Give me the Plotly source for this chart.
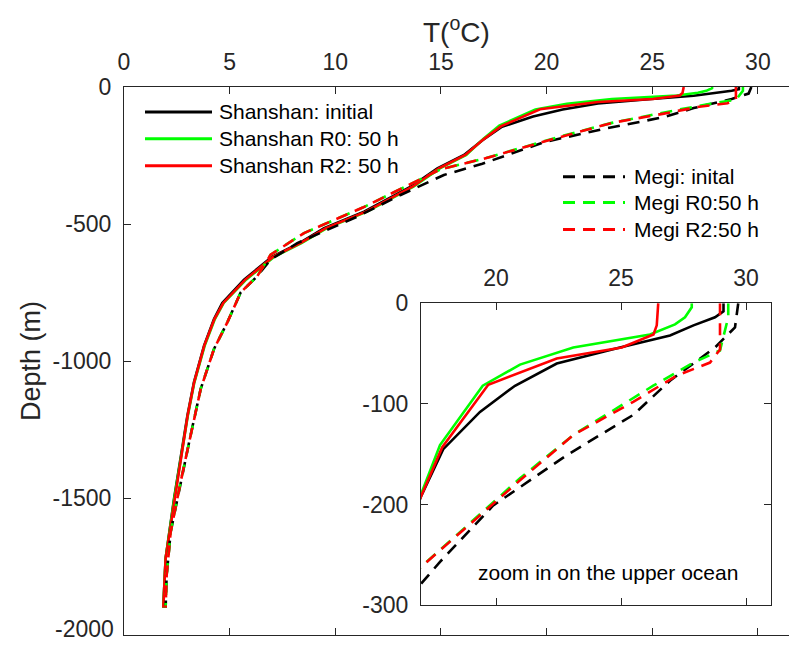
import plotly.graph_objects as go

# ---------------- data ----------------
ss_init_depth = [0, -8, -14, -22, -32, -44, -60, -82, -108, -145, -192, -248, -297, -364, -455, -515,
                 -570, -620, -703, -788, -847, -944, -1078, -1200, -1320, -1502, -1720, -1900]
ss_init_temp = [29.1, 29.1, 28.76, 27.9, 26.96, 24.96, 22.43, 20.76, 19.36, 17.89, 17.0, 16.09, 14.83, 13.57, 11.36, 9.47,
                8.3, 7.0, 5.68, 4.65, 4.26, 3.79, 3.31, 3.0, 2.76, 2.37, 1.97, 1.86]

ss_r0_depth = [0, -4, -14, -21, -31, -44, -61, -82, -141, -190, -248, -297, -364, -455, -515,
               -570, -620, -703, -788, -847, -944, -1078, -1200, -1320, -1502, -1720, -1900]
ss_r0_temp = [27.83, 27.83, 27.56, 27.16, 26.16, 23.09, 20.96, 19.47, 17.76, 17.0, 16.2, 14.95, 13.7, 11.5, 9.6,
              8.4, 7.1, 5.78, 4.72, 4.3, 3.82, 3.33, 3.02, 2.77, 2.38, 1.97, 1.86]

ss_r2_depth = [0, -22, -31, -44, -55, -81, -143, -192, -248, -297, -364, -455, -515,
               -570, -620, -703, -788, -847, -944, -1078, -1200, -1320, -1502, -1720, -1900]
ss_r2_temp = [26.49, 26.43, 26.3, 25.03, 22.43, 19.69, 17.85, 17.0, 16.15, 14.9, 13.65, 11.45, 9.55,
              8.35, 7.05, 5.74, 4.7, 4.28, 3.8, 3.32, 3.01, 2.77, 2.38, 1.97, 1.86]

mg_init_depth = [0, -24, -44, -77, -111, -151, -201, -257, -280, -321, -394, -473, -570, -630, -690,
                 -750, -859, -956, -1102, -1271, -1441, -1623, -1781, -1900]
mg_init_temp = [29.69, 29.56, 28.76, 26.96, 25.49, 22.83, 19.89, 17.76, 16.96, 15.14, 13.09, 11.04, 8.2, 6.94, 6.31,
                5.52, 4.89, 4.26, 3.63, 3.15, 2.68, 2.21, 2.02, 1.97]

mg_r0_depth = [0, -14, -47, -59, -82, -131, -174, -263, -300, -361, -440, -533, -612, -690,
               -750, -859, -956, -1102, -1271, -1441, -1623, -1781, -1900]
mg_r0_temp = [29.29, 29.29, 28.96, 27.89, 26.29, 23.09, 20.96, 16.96, 15.0, 13.4, 11.3, 8.52, 6.94, 6.31,
              5.52, 4.89, 4.26, 3.63, 3.15, 2.68, 2.21, 2.02, 1.97]

mg_r2_depth = [0, -14, -46, -59, -72, -98, -131, -176, -263, -300, -361, -440, -533, -612, -690,
               -750, -859, -956, -1102, -1271, -1441, -1623, -1781, -1900]
mg_r2_temp = [28.96, 28.96, 28.96, 28.56, 27.23, 25.49, 23.09, 20.96, 16.96, 15.0, 13.4, 11.3, 8.52, 6.94, 6.31,
              5.52, 4.89, 4.26, 3.63, 3.15, 2.68, 2.21, 2.02, 1.97]

series_names = ["Shanshan: initial", "Shanshan R0: 50 h", "Shanshan R2: 50 h",
                "Megi: inital", "Megi R0:50 h", "Megi R2:50 h"]

main_x_ticks = [0, 5, 10, 15, 20, 25, 30]
main_y_ticks = [0, -500, -1000, -1500, -2000]
inset_x_ticks = [20, 25, 30]
inset_y_ticks = [0, -100, -200, -300]

# ---------------- styles ----------------
BLACK, GREEN, RED = "#000000", "#00FF00", "#FF0000"
DASH = "12px,8px"
LW = 2.6
AXC = "#262626"
FONT = "Liberation Sans, Arial, Helvetica, sans-serif"
TICK_SIZE = 23

series = [
    (ss_init_temp, ss_init_depth, BLACK, "solid"),
    (ss_r0_temp, ss_r0_depth, GREEN, "solid"),
    (ss_r2_temp, ss_r2_depth, RED, "solid"),
    (mg_init_temp, mg_init_depth, BLACK, DASH),
    (mg_r0_temp, mg_r0_depth, GREEN, DASH),
    (mg_r2_temp, mg_r2_depth, RED, DASH),
]

fig = go.Figure()
for (t, d, c, dash), name in zip(series, series_names):
    fig.add_trace(go.Scatter(x=t, y=d, mode="lines", name=name, showlegend=False,
                             line=dict(color=c, width=LW, dash=dash), xaxis="x", yaxis="y"))
for (t, d, c, dash), name in zip(series, series_names):
    fig.add_trace(go.Scatter(x=t, y=d, mode="lines", name=name, showlegend=False,
                             line=dict(color=c, width=LW, dash=dash), xaxis="x2", yaxis="y2"))

W, H = 789, 648
L, T, R, B = 124, 87, 0, 11
PW, PH = W - L - R, H - T - B


def px(xp):
    return (xp - L) / PW


def py(yp):
    return (T + PH - yp) / PH


ax_common = dict(showline=True, linecolor=AXC, linewidth=1, ticks="inside", ticklen=7,
                 tickcolor=AXC, showgrid=False, zeroline=False,
                 tickfont=dict(family=FONT, size=TICK_SIZE, color=AXC))

# the bottom main y tick label sits just above the lower edge: drawn as an annotation
main_y_vals = main_y_ticks[:-1]

fig.update_layout(
    width=W, height=H, margin=dict(l=L, r=R, t=T, b=B),
    paper_bgcolor="white", plot_bgcolor="white", showlegend=False,
    xaxis=dict(domain=[0, 1], range=[0, PW / 21.13], side="top", mirror="ticks",
               tickvals=main_x_ticks, ticktext=[str(v) for v in main_x_ticks],
               ticklabelstandoff=7, anchor="y", **ax_common),
    yaxis=dict(domain=[0, 1], range=[-2000, 0], mirror=False,
               tickvals=main_y_vals, ticktext=[str(v) for v in main_y_vals],
               ticklabelstandoff=7, anchor="x", **ax_common),
    xaxis2=dict(domain=[px(421), px(771)], range=[17, 31], side="top", mirror="ticks",
                tickvals=inset_x_ticks, ticktext=[str(v) for v in inset_x_ticks],
                ticklabelstandoff=7, anchor="y2", **ax_common),
    yaxis2=dict(domain=[py(607), py(304)], range=[-300, 0], mirror="ticks",
                tickvals=inset_y_ticks, ticktext=[str(v) for v in inset_y_ticks],
                ticklabelstandoff=7, anchor="x2", **ax_common),
)

annotations = [
    dict(text="T(<sup>o</sup>C)", x=0.5, y=py(30), xref="paper", yref="paper",
         showarrow=False, xanchor="center", yanchor="middle",
         font=dict(family=FONT, size=28, color=AXC)),
    dict(text="Depth (m)", x=px(31), y=0.5, xref="paper", yref="paper", textangle=-90,
         showarrow=False, xanchor="center", yanchor="middle",
         font=dict(family=FONT, size=27, color=AXC)),
    dict(text="zoom in on the upper ocean", x=px(608), y=py(574), xref="paper", yref="paper",
         showarrow=False, xanchor="center", yanchor="middle",
         font=dict(family=FONT, size=21, color="#000000")),
    dict(text=str(main_y_ticks[-1]), x=px(116), y=py(631), xref="paper", yref="paper",
         showarrow=False, xanchor="right", yanchor="middle",
         font=dict(family=FONT, size=TICK_SIZE, color=AXC)),
]

shapes = []
leg1_y = [112, 139, 166]
leg2_y = [177, 203, 230]
for i, yy in enumerate(leg1_y):
    t, d, c, dash = series[i]
    shapes.append(dict(type="line", xref="paper", yref="paper", x0=px(145), x1=px(212),
                       y0=py(yy), y1=py(yy), line=dict(color=c, width=LW + 0.4, dash=dash)))
    annotations.append(dict(text=series_names[i], x=px(217), y=py(yy), xref="paper", yref="paper",
                            showarrow=False, xanchor="left", yanchor="middle",
                            font=dict(family=FONT, size=21, color="#000000")))
for i, yy in enumerate(leg2_y):
    t, d, c, dash = series[i + 3]
    shapes.append(dict(type="line", xref="paper", yref="paper", x0=px(563), x1=px(625),
                       y0=py(yy), y1=py(yy), line=dict(color=c, width=LW + 0.4, dash=dash)))
    annotations.append(dict(text=series_names[i + 3], x=px(632), y=py(yy), xref="paper", yref="paper",
                            showarrow=False, xanchor="left", yanchor="middle",
                            font=dict(family=FONT, size=21, color="#000000")))

fig.update_layout(annotations=annotations, shapes=shapes)
fig.write_html("out.html")
